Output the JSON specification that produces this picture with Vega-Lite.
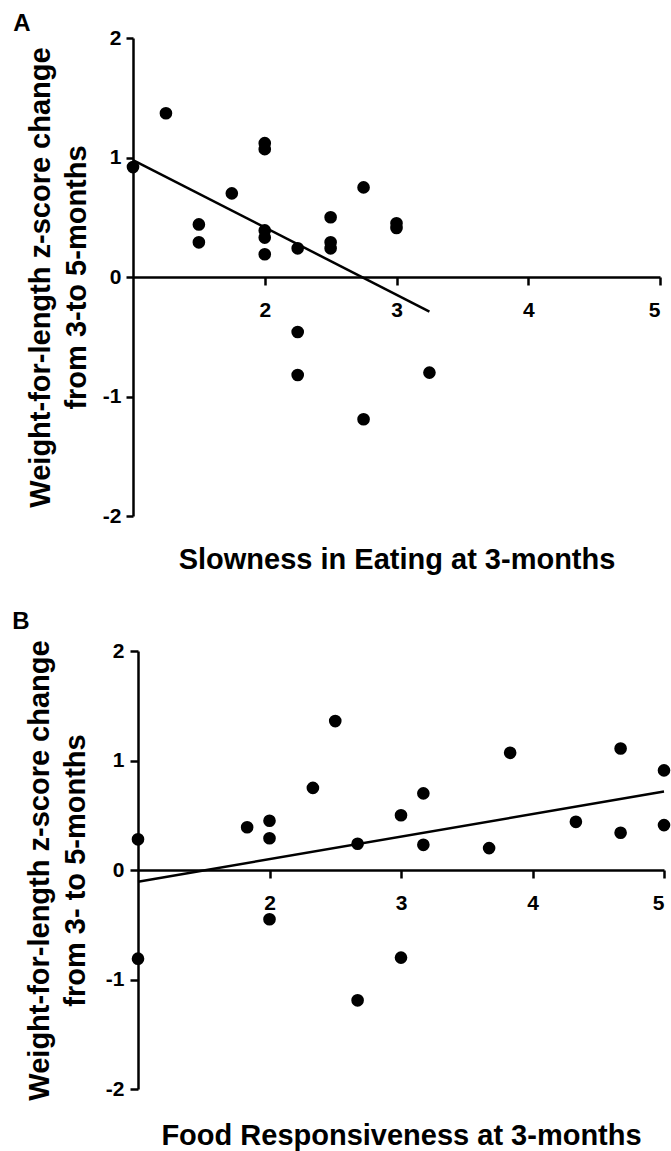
{
  "$schema": "https://vega.github.io/schema/vega-lite/v6.json",
  "background": "white",
  "padding": {"left": 12, "top": 12, "right": 0, "bottom": 5},
  "spacing": 35,
  "columns": 1,
  "config": {
    "view": {"stroke": null},
    "font": "Liberation Sans",
    "axis": {
      "grid": false,
      "domainColor": "black",
      "domainWidth": 2.5,
      "tickColor": "black",
      "tickWidth": 2.5,
      "labelColor": "black",
      "labelFont": "Liberation Sans",
      "labelFontSize": 21,
      "labelFontWeight": "bold",
      "labelExpr": "'' + datum.value",
      "titleColor": "black",
      "titleFont": "Liberation Sans",
      "titleFontSize": 29,
      "titleFontWeight": "bold",
      "titleLineHeight": 36
    },
    "title": {"font": "Liberation Sans", "fontSize": 24, "fontWeight": "bold", "color": "black"}
  },
  "datasets": {
    "a_points": [
      {"x": 1.0, "y": 0.92}, {"x": 1.25, "y": 1.37}, {"x": 2.0, "y": 1.12}, {"x": 2.0, "y": 1.07},
      {"x": 1.75, "y": 0.70}, {"x": 1.5, "y": 0.44}, {"x": 1.5, "y": 0.29}, {"x": 2.0, "y": 0.39},
      {"x": 2.0, "y": 0.33}, {"x": 2.0, "y": 0.19}, {"x": 2.25, "y": 0.24}, {"x": 2.5, "y": 0.50},
      {"x": 2.5, "y": 0.29}, {"x": 2.5, "y": 0.24}, {"x": 2.75, "y": 0.75}, {"x": 3.0, "y": 0.45},
      {"x": 3.0, "y": 0.41}, {"x": 2.25, "y": -0.46}, {"x": 2.25, "y": -0.82}, {"x": 3.25, "y": -0.80},
      {"x": 2.75, "y": -1.19}
    ],
    "a_fit": [{"x": 1.0, "y": 0.978}, {"x": 3.25, "y": -0.289}],
    "b_points": [
      {"x": 1.0, "y": 0.28}, {"x": 1.83, "y": 0.39}, {"x": 2.0, "y": 0.45}, {"x": 2.0, "y": 0.29},
      {"x": 2.33, "y": 0.75}, {"x": 2.5, "y": 1.36}, {"x": 2.67, "y": 0.24}, {"x": 3.0, "y": 0.50},
      {"x": 3.17, "y": 0.70}, {"x": 3.17, "y": 0.23}, {"x": 3.67, "y": 0.20}, {"x": 3.83, "y": 1.07},
      {"x": 4.33, "y": 0.44}, {"x": 4.67, "y": 1.11}, {"x": 4.67, "y": 0.34}, {"x": 5.0, "y": 0.91},
      {"x": 5.0, "y": 0.41}, {"x": 2.0, "y": -0.45}, {"x": 1.0, "y": -0.81}, {"x": 3.0, "y": -0.80},
      {"x": 2.67, "y": -1.19}
    ],
    "b_fit": [{"x": 1.0, "y": -0.107}, {"x": 5.0, "y": 0.717}]
  },
  "concat": [
    {
      "width": 527,
      "height": 478,
      "title": {"text": "A", "anchor": "start", "frame": "bounds", "dx": -13, "offset": -9},
      "encoding": {
        "x": {
          "field": "x", "type": "quantitative",
          "scale": {"domain": [1, 5], "nice": false, "zero": false},
          "axis": {
            "orient": "bottom", "offset": -239, "values": [2, 3, 4, 5],
            "tickSize": 8, "labelPadding": 14,
            "title": "Slowness in Eating at 3-months",
            "titleY": 291, "titleBaseline": "alphabetic"
          }
        },
        "y": {
          "field": "y", "type": "quantitative",
          "scale": {"domain": [-2, 2], "nice": false},
          "axis": {
            "values": [-2, -1, 0, 1, 2], "tickSize": 7, "labelPadding": 5, "titlePadding": 11,
            "title": ["Weight-for-length z-score change", "from 3-to 5-months"]
          }
        }
      },
      "layer": [
        {"data": {"name": "a_points"}, "mark": {"type": "point", "filled": true, "shape": "circle", "size": 160, "color": "black", "opacity": 1}},
        {"data": {"name": "a_fit"}, "mark": {"type": "line", "color": "black", "strokeWidth": 2.5}}
      ]
    },
    {
      "width": 531,
      "height": 438,
      "title": {"text": "B", "anchor": "start", "frame": "bounds", "dx": -13, "offset": 6},
      "encoding": {
        "x": {
          "field": "x", "type": "quantitative",
          "scale": {"domain": [1, 5], "nice": false, "zero": false, "range": [5, 531]},
          "axis": {
            "orient": "bottom", "offset": -219, "values": [2, 3, 4, 5],
            "tickSize": 8, "labelPadding": 14,
            "title": "Food Responsiveness at 3-months",
            "titleY": 274, "titleBaseline": "alphabetic"
          }
        },
        "y": {
          "field": "y", "type": "quantitative",
          "scale": {"domain": [-2, 2], "nice": false},
          "axis": {
            "offset": -5,
            "values": [-2, -1, 0, 1, 2], "tickSize": 8, "labelPadding": 6, "titlePadding": 15,
            "title": ["Weight-for-length z-score change", "from 3- to 5-months"]
          }
        }
      },
      "layer": [
        {"data": {"name": "b_points"}, "mark": {"type": "point", "filled": true, "shape": "circle", "size": 160, "color": "black", "opacity": 1}},
        {"data": {"name": "b_fit"}, "mark": {"type": "line", "color": "black", "strokeWidth": 2.5}}
      ]
    }
  ]
}
